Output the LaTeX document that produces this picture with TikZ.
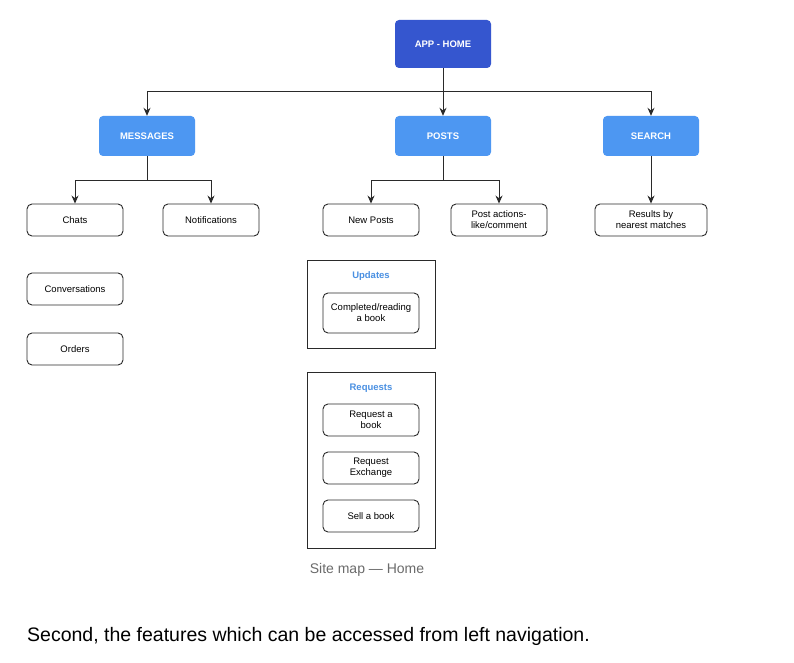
\documentclass[tikz,border=0pt]{standalone}
\usepackage{fontspec}
\setmainfont{Liberation Sans}
\usepackage{xcolor}
\usetikzlibrary{positioning,arrows.meta}

\definecolor{homeblue}{HTML}{3556CF}
\definecolor{tabblue}{HTML}{4D97F2}
\definecolor{titleblue}{HTML}{4A90E2}
\definecolor{linegray}{HTML}{2A2A2A}
\definecolor{captiongray}{HTML}{6B6B6B}

\begin{document}
\begin{tikzpicture}[x=1pt, y=-1pt, >={Stealth[length=8pt,width=7pt]}, font=\fontsize{9.5}{11}\selectfont]
\tikzstyle{tab}=[
    rounded corners=4pt,
    align=center,
    text=white,
    font=\fontsize{9.5}{11}\selectfont\bfseries,
    minimum width=96pt,
    minimum height=40pt,
    fill=tabblue
]
\tikzstyle{page}=[
    draw=linegray, rounded corners=5pt,
    line width=0.9pt,
    align=center,
    minimum width=96pt,
    minimum height=32pt,
    fill=white
]
\tikzstyle{group}=[draw=linegray, line width=0.9pt]
\tikzstyle{grouptitle}=[text=titleblue, font=\fontsize{9.5}{11}\selectfont\bfseries]
\tikzstyle{link}=[draw=linegray, line width=1pt]

\useasboundingbox[fill=white] (0,0) rectangle (794,663);

% top level
\node[tab, fill=homeblue, minimum height=48pt] (home) at (443,44) {APP - HOME};
\node[tab] (msgs) at (147,136) {MESSAGES};
\node[tab] (posts) at (443,136) {POSTS};
\node[tab] (search) at (651,136) {SEARCH};

% pages
\node[page] (chats) at (75,220) {Chats};
\node[page] (notif) at (211,220) {Notifications};
\node[page] (newposts) at (371,220) {New Posts};
\node[page] (actions) at (499,220) {Post actions-\\like/comment};
\node[page, minimum width=112pt] (results) at (651,220) {Results by\\nearest matches};
\node[page] (conv) at (75,289) {Conversations};
\node[page] (orders) at (75,349) {Orders};

% updates group
\draw[group] (307,260) rectangle (435,348);
\node[grouptitle] (updates) at (371,276) {Updates};
\node[page, minimum height=40pt] (completed) at (371,313) {Completed/reading\\a book};

% requests group
\draw[group] (307,372) rectangle (435,548);
\node[grouptitle] (requests) at (371,388) {Requests};
\node[page] (reqbook) at (371,420) {Request a\\book};
\node[page] (reqexch) at (371,468) {Request\\Exchange};
\node[page] (sell) at (371,516) {Sell a book};

% connectors
\coordinate (hbar) at (443,92);
\coordinate (mbar) at (147,180);
\coordinate (pbar) at (443,180);
\draw[link] (home.south) -- (hbar);
\draw[link, ->] (hbar) -| (msgs.north);
\draw[link, ->] (hbar) -| (search.north);
\draw[link, ->] (hbar) -- (posts.north);
\draw[link] (msgs.south) -- (mbar);
\draw[link, ->] (mbar) -| (chats.north);
\draw[link, ->] (mbar) -| (notif.north);
\draw[link] (posts.south) -- (pbar);
\draw[link, ->] (pbar) -| (newposts.north);
\draw[link, ->] (pbar) -| (actions.north);
\draw[link, ->] (search.south) -- (results.north);

% caption and text below
\node[text=captiongray, font=\fontsize{14}{16}\selectfont] (caption) at (367,570) {Site map — Home};
\node[anchor=west, font=\fontsize{19.5}{22}\selectfont, inner sep=0pt] (second) at (27,636) {Second, the features which can be accessed from left navigation.};
\end{tikzpicture}
\end{document}
